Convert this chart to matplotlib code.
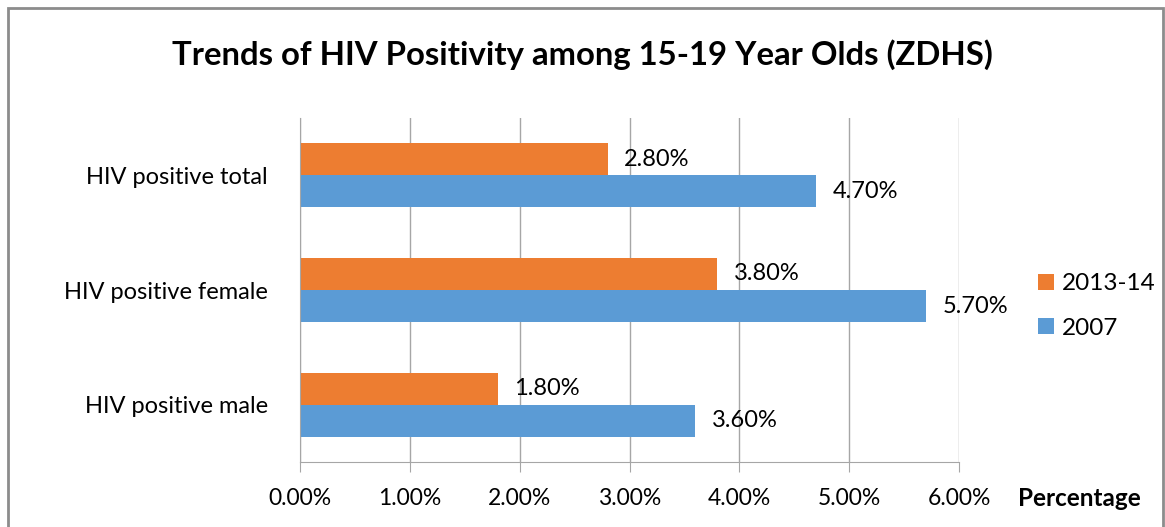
import matplotlib.pyplot as plt
from matplotlib.patches import Rectangle
from matplotlib.ticker import FuncFormatter, MultipleLocator

categories = ["HIV positive male", "HIV positive female", "HIV positive total"]
series_2007 = [3.6, 5.7, 4.7]
series_2013 = [1.8, 3.8, 2.8]

ORANGE = "#ED7D31"
BLUE = "#5B9BD5"
GRID = "#A6A6A6"

plt.rcParams['font.family'] = ['Lato', 'DejaVu Sans']

fig = plt.figure(figsize=(11.65, 5.27), dpi=100)
W, H = 1165, 527
# axes in pixel coords: left 300, right 959, top 118, bottom 462
ax = fig.add_axes([300 / W, 1 - 462 / H, 659 / W, 344 / H])

y = range(len(categories))
h = 0.28
b_blue = ax.barh([i - h / 2 for i in y], series_2007, height=h, color=BLUE, label="2007")
b_or = ax.barh([i + h / 2 for i in y], series_2013, height=h, color=ORANGE, label="2013-14")

for bars, vals in ((b_blue, series_2007), (b_or, series_2013)):
    for bar, v in zip(bars, vals):
        ax.annotate(f"{v:.2f}%", (v, bar.get_y() + bar.get_height() / 2),
                    xytext=(12, 0), textcoords="offset points",
                    ha="left", va="center", fontsize=17)

ax.set_xlim(0, 6)
ax.set_ylim(-0.5, 2.5)
ax.xaxis.set_major_locator(MultipleLocator(1))
ax.xaxis.set_major_formatter(FuncFormatter(lambda v, p: f"{v:.2f}%"))
ax.set_yticks(list(y))
ax.set_yticklabels(categories, fontsize=17)
ax.grid(axis="x", color=GRID, linewidth=1)
ax.set_axisbelow(True)
for s in ("top", "right"):
    ax.spines[s].set_visible(False)
for s in ("left", "bottom"):
    ax.spines[s].set_color(GRID)
ax.tick_params(axis="y", length=0, pad=23)
ax.tick_params(axis="x", length=7, color=GRID, labelsize=16.5, pad=12)

fig.text(0.5, 1 - 55 / H, "Trends of HIV Positivity among 15-19 Year Olds (ZDHS)",
         ha="center", va="center", fontsize=23.7, fontweight="bold")
fig.text(1018 / W, 1 - 498 / H, "Percentage", ha="left", va="center",
         fontsize=17.5, fontweight="bold")

handles = [b_or, b_blue]
fig.legend(handles, ["2013-14", "2007"], loc="center left",
           bbox_to_anchor=(1038 / W, 1 - 306 / H), frameon=False,
           borderpad=0, borderaxespad=0,
           fontsize=17.5, handlelength=0.65, handleheight=0.65,
           handletextpad=0.35, labelspacing=0.95)

fig.patches.append(Rectangle((8 / W, -0.1), (1163 - 8) / W, 1 - 8 / H + 0.1,
                             transform=fig.transFigure, fill=False,
                             edgecolor="#8C8C8C", linewidth=2))

fig.savefig("out.png", dpi=100)
